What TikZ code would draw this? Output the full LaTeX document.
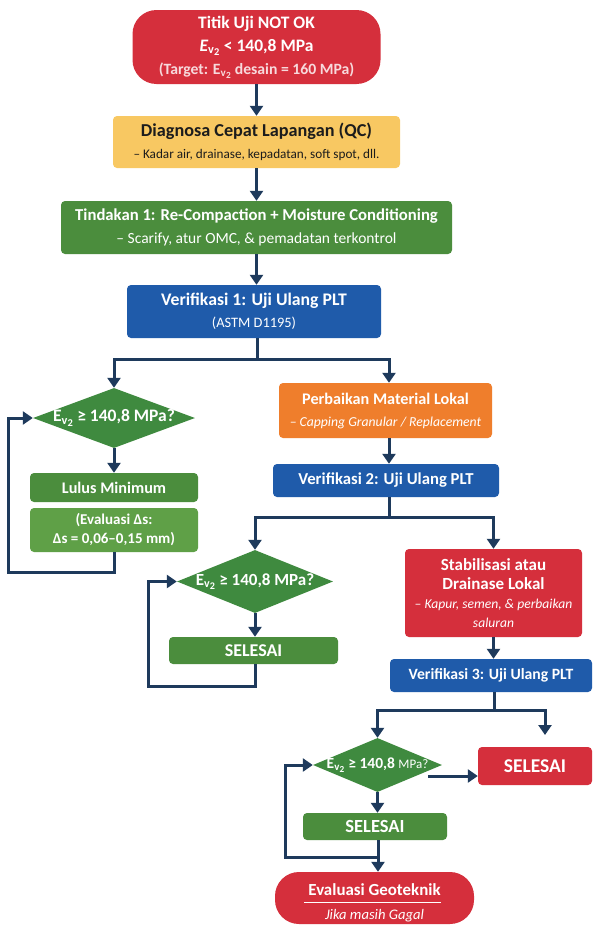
\documentclass[tikz,border=0pt]{standalone}
\usepackage{fontspec}
\setmainfont{Carlito}
\usetikzlibrary{arrows.meta,shapes.geometric}
\definecolor{cred}{HTML}{D52F3C}
\definecolor{cpink}{HTML}{F7D9DC}
\definecolor{cyellow}{HTML}{F8C862}
\definecolor{cdark}{HTML}{1C1C1C}
\definecolor{cgreen}{HTML}{4B8D3D}
\definecolor{cdgreen}{HTML}{3F8A3F}
\definecolor{clgreen}{HTML}{5FA047}
\definecolor{cblue}{HTML}{1F5BAA}
\definecolor{corange}{HTML}{EF7E2C}
\definecolor{cnavy}{HTML}{1E3A5C}
\newcommand{\EVsub}{\textsubscript{v\kern0.2pt\raisebox{-0.35ex}{\scalebox{0.85}{2}}}}
\newcommand{\fsz}[2]{\fontsize{#1}{#2}\selectfont}
\tikzset{
  box/.style={rectangle, rounded corners=4pt, inner sep=0pt, align=center, text=white},
  dia/.style={diamond, aspect=2.6, inner sep=0pt, fill=cdgreen},
  ln/.style={draw=cnavy, line width=3pt},
  arr/.style={draw=cnavy, line width=3pt, -{Triangle[width=13pt,length=10pt]}},
  lbl/.style={inner sep=0pt, text=white, align=center},
}
\begin{document}
\begin{tikzpicture}[x=1pt,y=-1pt]
\useasboundingbox (0,0) rectangle (593,926);
\fill[white] (0,0) rectangle (593,926);

% nodes
\node[box, fill=cred, rounded corners=24pt, minimum width=248pt, minimum height=74pt,
  font=\bfseries\fsz{17.5}{23}] (top) at (256.5,47)
  {Titik Uji NOT OK\\ {\itshape E}\EVsub{} < 140,8 MPa\\
   \fsz{15.7}{23}\color{cpink}(Target: E\EVsub{} desain = 160 MPa)};

\node[box, fill=cyellow, text=cdark, minimum width=287pt, minimum height=52pt,
  font=\fsz{18.2}{22}] (diag) at (256.5,142)
  {\bfseries Diagnosa Cepat Lapangan (QC)\\ \fsz{13.2}{22}– Kadar air, drainase, kepadatan, soft spot, dll.};

\node[box, fill=cgreen, minimum width=391pt, minimum height=53pt,
  font=\fsz{16.7}{23}] (tind) at (256.5,227.5)
  {\bfseries Tindakan 1: Re-Compaction + Moisture Conditioning\\ \fsz{15.5}{23}– Scarify, atur OMC, \& pemadatan terkontrol};

\node[box, fill=cblue, minimum width=254pt, minimum height=53pt,
  font=\fsz{17.7}{22}] (ver1) at (254,311.5)
  {\bfseries Verifikasi 1: Uji Ulang PLT\\ \fsz{14.4}{22}(ASTM D1195)};

\node[dia, minimum width=162pt, minimum height=60pt] (d1) at (114,418) {};
\node[lbl, font=\bfseries\fsz{17.5}{18}] (d1t) at (d1.center) {E\EVsub{} ≥ 140,8 MPa?};

\node[box, fill=cgreen, minimum width=168pt, minimum height=29pt,
  font=\bfseries\fsz{16.2}{17}] (lulus) at (114,487.5) {Lulus Minimum};
\node[box, fill=clgreen, minimum width=168pt, minimum height=44pt,
  font=\bfseries\fsz{15}{19}] (eval1) at (114,530)
  {(Evaluasi Δs:\\ Δs = 0,06–0,15 mm)};

\node[box, fill=corange, minimum width=213pt, minimum height=55pt,
  font=\fsz{16.2}{22}] (orange) at (385.5,410.5)
  {\bfseries Perbaikan Material Lokal\\ \itshape\fsz{13.7}{22}– Capping Granular / Replacement};

\node[box, fill=cblue, minimum width=226pt, minimum height=33pt,
  font=\bfseries\fsz{16.7}{18}] (ver2) at (386,480.5) {Verifikasi 2: Uji Ulang PLT};

\node[dia, minimum width=156pt, minimum height=63pt] (d2) at (255,581.5) {};
\node[lbl, font=\bfseries\fsz{17}{18}] (d2t) at (d2.center) {E\EVsub{} ≥ 140,8 MPa?};

\node[box, fill=cgreen, minimum width=169pt, minimum height=27pt,
  font=\bfseries\fsz{18}{18}] (sel2) at (253.5,650.5) {SELESAI};

\node[box, fill=cred, minimum width=177pt, minimum height=88pt,
  font=\fsz{17}{18.5}] (stab) at (493.5,593)
  {\bfseries Stabilisasi atau\\ \bfseries Drainase Lokal\\[1pt]
   \itshape\fsz{13.6}{16}– Kapur, semen, \& perbaikan\\ \itshape\fsz{13.6}{16}saluran};

\node[box, fill=cblue, minimum width=202pt, minimum height=33pt,
  font=\bfseries\fsz{15.7}{17}] (ver3) at (491,675.5) {Verifikasi 3: Uji Ulang PLT};

\node[dia, minimum width=129pt, minimum height=54pt] (d3) at (377.5,765) {};
\node[lbl, font=\bfseries\fsz{15.5}{16}] (d3t) at (d3.center) {E\EVsub{} ≥ 140,8 {\mdseries\fsz{13}{16}MPa?}};

\node[box, fill=cred, minimum width=114pt, minimum height=38pt,
  font=\bfseries\fsz{19.5}{20}] (selR) at (535,766) {SELESAI};

\node[box, fill=cgreen, minimum width=144pt, minimum height=27pt,
  font=\bfseries\fsz{18.5}{19}] (sel3) at (375,826.5) {SELESAI};

\node[box, fill=cred, rounded corners=24pt, minimum width=199pt, minimum height=52pt] (evalG) at (374.5,898) {};
\node[lbl, font=\bfseries\fsz{16.9}{18}] (evalGt) at (374.5,890) {Evaluasi Geoteknik};
\node[lbl, font=\itshape\fsz{14.6}{16}] (evalGs) at (374.5,916) {Jika masih Gagal};
\draw[white, line width=1pt] (304,902.5) -- (441,902.5);

% junctions
\coordinate (j1) at (257,359);
\coordinate (j2) at (389,517);
\coordinate (j3) at (494,710);
\coordinate (c1a) at (114,572);
\coordinate (c1b) at (8,572);
\coordinate (c1c) at (8,418);
\coordinate (c2a) at (255,686);
\coordinate (c2b) at (148,686);
\coordinate (c2c) at (148,581.5);
\coordinate (c3r) at (545,735);
\coordinate (c3o) at (428,776);
\coordinate (c3a) at (378,857);
\coordinate (c3b) at (285,857);
\coordinate (c3c) at (285,765);

% connectors
\draw[arr] (top.south) -- (diag.north);
\draw[arr] (diag.south) -- (tind.north);
\draw[arr] (tind.south -| diag.south) -- (ver1.north -| diag.south);
\draw[ln] (ver1.south -| j1) -- (j1);
\draw[arr] (j1) -| (d1.north);
\draw[arr] (j1) -| (orange.north -| j2);
\draw[arr] (d1.south) -- (lulus.north);
\draw[arr] (eval1.south) -- (c1a) -- (c1b) -- (c1c) -- (d1.west);

\draw[arr] (orange.south -| j2) -- (ver2.north -| j2);
\draw[ln] (ver2.south -| j2) -- (j2);
\draw[arr] (j2) -| (d2.north);
\draw[arr] (j2) -| (stab.north);
\draw[arr] (d2.south) -- (sel2.north -| d2.south);
\draw[arr] (sel2.south -| c2a) -- (c2a) -- (c2b) -- (c2c) -- (d2.west);

\draw[arr] (stab.south) -- (ver3.north -| stab.south);
\draw[ln] (ver3.south -| j3) -- (j3);
\draw[arr] (j3) -| (d3.north);
\draw[arr] (j3) -| (c3r);
\draw[arr] (c3o) -- (c3o -| selR.west);
\draw[arr] (d3.south) -- (sel3.north -| d3.south);
\draw[arr] (sel3.south -| c3a) -- (evalG.north -| c3a);
\draw[arr] (c3a) -- (c3b) -- (c3c) -- (d3.west);
\end{tikzpicture}
\end{document}
